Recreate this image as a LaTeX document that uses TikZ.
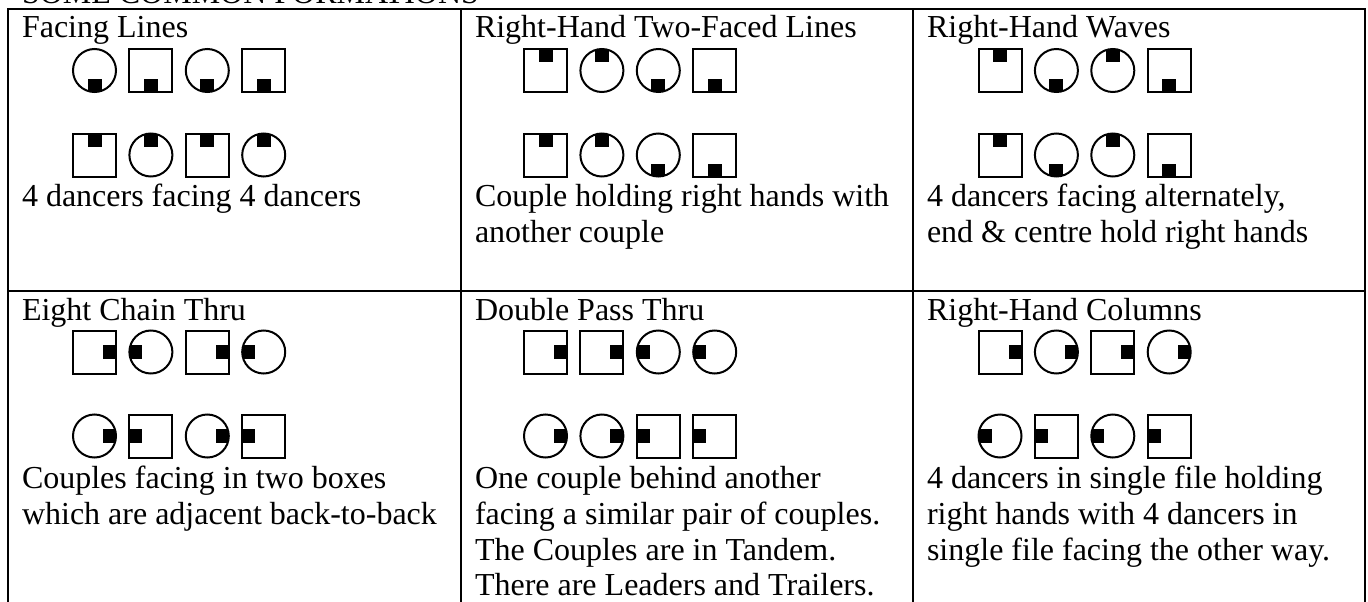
\documentclass[tikz,border=0pt]{standalone}
\usepackage{fontspec}
\setmainfont{Liberation Serif}
\newcommand\dancerat[5]{%
  \node[dancer, shape=#4] (#1) at ({#2},{#3}) {};
  \begin{scope}[shift={({#2},{#3})}, rotate=#5]
    \fill (8.5,-7) rectangle (21,7);
  \end{scope}
}
\newcommand\drow[4]{%
  \foreach \shp/\dir [count=\i] in {#4} {
    \dancerat{#1\i}{#2+22.5+(\i-1)*56.4}{#3}{\shp}{\dir}
  }
}
\begin{document}
\begin{tikzpicture}[x=1pt, y=-1pt,
  dancer/.style={draw, line width=2pt, minimum size=43pt, inner sep=0pt, outer sep=0pt},
  tbl/.style={line width=2pt},
  txt/.style={anchor=base west, inner sep=0pt, outer sep=0pt, font=\fontsize{32}{36}\selectfont}]
\useasboundingbox (0,0) rectangle (1368,602);
% page title (cut off at top)
\node[txt] (title) at (22,4) {SOME COMMON FORMATIONS};
% table
\draw[tbl] (8,640) -- (8,9) -- (1365,9) -- (1365,640);
\draw[tbl] (461,9) -- (461,640);
\draw[tbl] (913,9) -- (913,640);
\draw[tbl] (8,291) -- (1365,291);
% panel 1
\node[txt] (h1) at (22,38) {Facing Lines};
\drow{p1a}{72}{70.5}{circle/270, rectangle/270, circle/270, rectangle/270}
\drow{p1b}{72}{155}{rectangle/90, circle/90, rectangle/90, circle/90}
\node[txt] (t1a) at (22,206) {4 dancers facing 4 dancers};
% panel 2
\node[txt] (h2) at (475,38) {Right-Hand Two-Faced Lines};
\drow{p2a}{523}{70.5}{rectangle/90, circle/90, circle/270, rectangle/270}
\drow{p2b}{523}{155}{rectangle/90, circle/90, circle/270, rectangle/270}
\node[txt] (t2a) at (475,206) {Couple holding right hands with};
\node[txt] (t2b) at (475,242) {another couple};
% panel 3
\node[txt] (h3) at (927,38) {Right-Hand Waves};
\drow{p3a}{977.5}{70.5}{rectangle/90, circle/270, circle/90, rectangle/270}
\drow{p3b}{977.5}{155}{rectangle/90, circle/270, circle/90, rectangle/270}
\node[txt] (t3a) at (927,206) {4 dancers facing alternately,};
\node[txt] (t3b) at (927,242) {end \& centre hold right hands};
% panel 4
\node[txt] (h4) at (22,320) {Eight Chain Thru};
\drow{p4a}{72}{352}{rectangle/0, circle/180, rectangle/0, circle/180}
\drow{p4b}{72}{436}{circle/0, rectangle/180, circle/0, rectangle/180}
\node[txt] (t4a) at (22,488) {Couples facing in two boxes};
\node[txt] (t4b) at (22,524) {which are adjacent back-to-back};
% panel 5
\node[txt] (h5) at (475,320) {Double Pass Thru};
\drow{p5a}{523}{352}{rectangle/0, rectangle/0, circle/180, circle/180}
\drow{p5b}{523}{436}{circle/0, circle/0, rectangle/180, rectangle/180}
\node[txt] (t5a) at (475,488) {One couple behind another};
\node[txt] (t5b) at (475,524) {facing a similar pair of couples.};
\node[txt] (t5c) at (475,560) {The Couples are in Tandem.};
\node[txt] (t5d) at (475,595) {There are Leaders and Trailers.};
% panel 6
\node[txt] (h6) at (927,320) {Right-Hand Columns};
\drow{p6a}{977.5}{352}{rectangle/0, circle/0, rectangle/0, circle/0}
\drow{p6b}{977.5}{436}{circle/180, rectangle/180, circle/180, rectangle/180}
\node[txt] (t6a) at (927,488) {4 dancers in single file holding};
\node[txt] (t6b) at (927,524) {right hands with 4 dancers in};
\node[txt] (t6c) at (927,560) {single file facing the other way.};
\end{tikzpicture}
\end{document}
